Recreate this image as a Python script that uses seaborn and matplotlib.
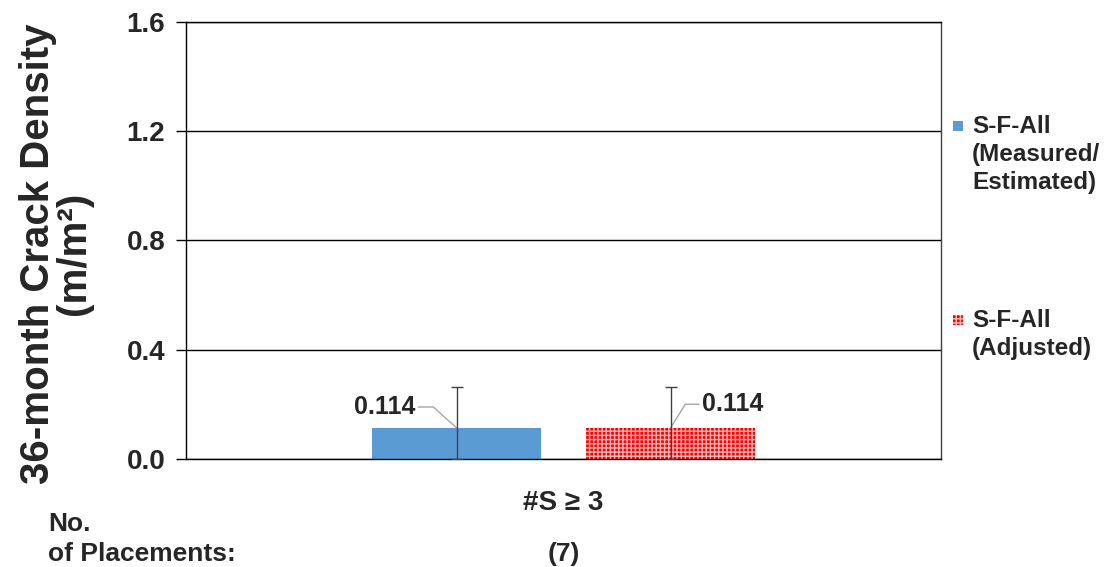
import pandas as pd
import matplotlib
matplotlib.use("Agg")
import matplotlib.pyplot as plt
import seaborn as sns
from matplotlib.patches import Rectangle

categories = ['#S ≥ 3']
series = ['S-F-All\n(Measured/\nEstimated)', 'S-F-All\n(Adjusted)']
density = [0.114, 0.114]
err_low = [0.114, 0.114]
err_high = [0.150, 0.150]
placements = [7]
yticks = [0.0, 0.4, 0.8, 1.2, 1.6]

colors = ['#5B9BD5', '#FF0000']

data_pd = pd.DataFrame({'cat': categories * len(series), 'series': series, 'density': density})

sns.set_style("white")
plt.rcParams['font.family'] = ['Liberation Sans', 'DejaVu Sans']
plt.rcParams['font.weight'] = 'bold'
plt.rcParams['hatch.linewidth'] = 1.0

fig = plt.figure(figsize=(11.04, 5.67), dpi=100)
ax = fig.add_axes([0.1685, 0.1905, 0.6839, 0.7707])

sns.barplot(data=data_pd, x='cat', y='density', hue='series', palette=colors,
            width=0.567, gap=0.21, legend=False, ax=ax, saturation=1, errorbar=None)

bars = ax.patches
for b in bars:
    b.set_linewidth(0)
bars[1].set_hatch('++++')
bars[1].set_edgecolor('#FFB8B8')

xs = [b.get_x() + b.get_width() / 2 for b in bars]
ax.errorbar(xs, density, yerr=[err_low, err_high], fmt='none', ecolor='#404040',
            elinewidth=1, capsize=4, capthick=1, zorder=5)

# data labels with leader lines
lead = dict(arrowstyle='-', color='#A6A6A6', lw=1, shrinkA=0, shrinkB=0)
ax.annotate(f'{density[0]:.3f}', xy=(xs[0], density[0]), xytext=(-52, 15),
            textcoords='offset points', ha='center', va='center', fontsize=18,
            fontweight='bold',
            arrowprops=dict(lead, connectionstyle='angle,angleA=0,angleB=138,rad=0'))
ax.annotate(f'{density[1]:.3f}', xy=(xs[1], density[1]), xytext=(45, 17),
            textcoords='offset points', ha='center', va='center', fontsize=18,
            fontweight='bold',
            arrowprops=dict(lead, connectionstyle='angle,angleA=0,angleB=58,rad=0'))

ax.set_xlim(-0.5, 0.5)
ax.set_ylim(0, 1.6)
ax.set_yticks(yticks)
ax.set_yticklabels([f'{v:.1f}' for v in yticks], fontsize=20, fontweight='bold')
ax.yaxis.grid(True, color='black', lw=1)
ax.set_axisbelow(True)

ax.set_xticks([0])
ax.set_xticklabels(categories, fontsize=20, fontweight='bold')
ax.set_xticks([-0.5, 0.5], minor=True)
ax.tick_params(axis='x', which='major', length=0, pad=22)
ax.tick_params(axis='x', which='minor', length=7, width=1, color='black', direction='out')
ax.tick_params(axis='y', length=7, width=1, color='black', direction='out', left=True, pad=8)
ax.set_xlabel('')

for side in ['left', 'bottom', 'top']:
    ax.spines[side].set_color('black')
    ax.spines[side].set_linewidth(1)
ax.spines['right'].set_color('#404040')
ax.spines['right'].set_linewidth(1)

ax.set_ylabel('36-month Crack Density\n(m/m²)', fontsize=29, fontweight='bold', linespacing=0.95)
ax.yaxis.set_label_coords(-0.123, 0.47)

# placements row
fig.text(48 / 1104, 1 - 539 / 567, 'No.\nof Placements:', fontsize=19, fontweight='bold',
         ha='left', va='center', linespacing=1.3)
ax.text(0, -0.218, f'({placements[0]})', transform=ax.get_xaxis_transform(), ha='center',
        va='center', fontsize=19, fontweight='bold')

# legend
leg_y = [126, 320]
for i, (lab, c) in enumerate(zip(series, colors)):
    r = Rectangle((953 / 1104, 1 - (leg_y[i] + 5) / 567), 10 / 1104, 10 / 567,
                  transform=fig.transFigure, facecolor=c, lw=0,
                  hatch='++++' if i == 1 else None,
                  edgecolor='#FFB8B8' if i == 1 else c)
    fig.add_artist(r)
    fig.text(972 / 1104, 1 - (leg_y[i] - 11) / 567, lab, fontsize=17.5, fontweight='bold',
             ha='left', va='top', linespacing=1.27)

fig.savefig('out.png', dpi=100)
